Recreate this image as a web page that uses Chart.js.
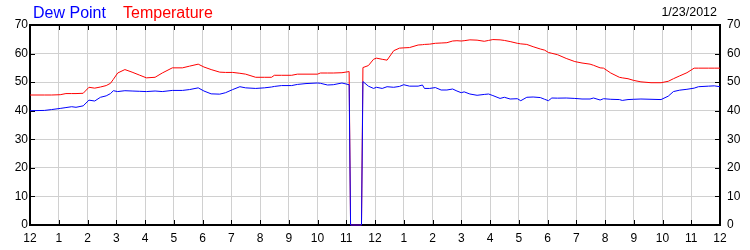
<!DOCTYPE html>
<html>
<head>
<meta charset="utf-8">
<script src="https://cdn.jsdelivr.net/npm/chart.js@4"></script>
<style>
  body { margin: 0; background: #fff; }
  #wrap { position: relative; width: 750px; height: 250px; font-family: "Liberation Sans", Arial, sans-serif; }
  .lbl { position: absolute; white-space: nowrap; line-height: normal; }
</style>
</head>
<body>
<div id="wrap">
  <canvas id="myChart" width="750" height="250"></canvas>
  <div class="lbl" style="left:33px; top:3.5px; font-size:16px; color:#0000ff">Dew Point</div>
  <div class="lbl" style="left:123px; top:3.5px; font-size:16px; color:#ff0000">Temperature</div>
  <div class="lbl" style="right:33px; top:5.4px; font-size:12.5px; color:#000">1/23/2012</div>
</div>
<script>
// hours since midnight
let hours = [0, 0.5, 0.75, 1.05, 1.25, 1.45, 1.6, 1.85, 2.05, 2.25, 2.45, 2.65, 2.8, 2.9, 3.05, 3.3, 3.55, 3.8, 4.05, 4.35,
  4.6, 4.95, 5.3, 5.55, 5.85, 6.05, 6.3, 6.6, 6.8, 7.05, 7.3, 7.5, 7.85, 8.15, 8.4, 8.5, 8.75, 9.1, 9.3, 9.6,
  10.0, 10.1, 10.35, 10.55, 10.85, 11.1, 11.15, 11.53, 11.58, 11.77, 11.95, 12.05, 12.25, 12.42, 12.65, 12.85, 13.0, 13.2, 13.5, 13.65,
  13.72, 13.9, 14.1, 14.3, 14.5, 14.7, 14.85, 15.0, 15.1, 15.3, 15.55, 15.8, 15.95, 16.1, 16.35, 16.5, 16.7, 16.95, 17.07, 17.28,
  17.5, 17.75, 17.9, 18.03, 18.15, 18.35, 18.65, 18.95, 19.2, 19.48, 19.6, 19.83, 19.95, 20.2, 20.5, 20.6, 20.8, 21.0, 21.25, 21.6,
  21.95, 22.2, 22.38, 22.6, 22.85, 23.1, 23.25, 23.6, 23.8, 24.0];

let temperature = [45.5, 45.5, 45.5, 45.6, 46.0, 46.0, 46.0, 46.1, 48.2, 47.9, 48.3, 48.8, 49.6, 51.0, 53.2, 54.4, 53.5, 52.5, 51.5, 51.7,
  53.2, 55.0, 55.0, 55.6, 56.3, 55.3, 54.4, 53.5, 53.4, 53.4, 53.1, 52.8, 51.7, 51.7, 51.7, 52.4, 52.4, 52.4, 52.8, 52.8,
  52.8, 53.2, 53.2, 53.2, 53.3, 53.7, 0, 0, 55.1, 55.8, 58.0, 58.4, 58.0, 57.7, 61.0, 61.9, 62.0, 62.1, 63.0, 63.1,
  63.2, 63.3, 63.6, 63.7, 63.8, 64.4, 64.5, 64.4, 64.5, 64.8, 64.7, 64.3, 64.6, 64.9, 64.8, 64.6, 64.2, 63.6, 63.4, 63.2,
  62.4, 61.6, 61.2, 60.4, 60.1, 59.6, 58.3, 57.2, 56.7, 56.3, 55.9, 55.0, 54.9, 53.2, 51.7, 51.5, 51.2, 50.6, 50.1, 49.8,
  49.8, 50.3, 51.2, 52.2, 53.3, 54.9, 54.9, 54.9, 54.9, 54.9];

let dewPoint = [40.0, 40.1, 40.4, 40.8, 41.1, 41.4, 41.2, 41.7, 43.7, 43.4, 44.7, 45.2, 46.0, 47.0, 46.7, 47.0, 46.9, 46.8, 46.7, 46.9,
  46.7, 47.1, 47.1, 47.4, 48.0, 46.9, 45.9, 45.8, 46.3, 47.4, 48.4, 48.0, 47.8, 48.0, 48.3, 48.5, 48.8, 48.8, 49.2, 49.5,
  49.7, 49.6, 49.0, 49.1, 49.7, 49.1, 0, 0, 50.2, 48.6, 47.8, 48.2, 47.8, 48.4, 48.2, 48.5, 49.1, 48.6, 48.6, 49.0,
  47.8, 47.8, 48.1, 47.25, 47.25, 47.6, 46.9, 46.3, 46.6, 45.85, 45.4, 45.7, 45.85, 45.3, 44.3, 44.7, 44.1, 44.2, 43.5, 44.7,
  44.8, 44.6, 44.0, 43.5, 44.45, 44.4, 44.45, 44.3, 44.1, 44.1, 44.45, 43.75, 44.2, 44.0, 43.9, 43.6, 43.9, 44.0, 44.1, 44.0,
  43.9, 45.1, 46.7, 47.2, 47.5, 47.9, 48.4, 48.6, 48.7, 48.4];

let hourLabels = ['12', '1', '2', '3', '4', '5', '6', '7', '8', '9', '10', '11',
  '12', '1', '2', '3', '4', '5', '6', '7', '8', '9', '10', '11', '12'];

const FONT = '"Liberation Sans", Arial, sans-serif';
const GRID = '#d0d0d0';

// black frame with short inward ticks on all four sides
const framePlugin = {
  id: 'frame',
  beforeDatasetsDraw(chart) {
    const { ctx, chartArea: a, scales } = chart;
    ctx.save();
    ctx.strokeStyle = '#000';
    ctx.lineWidth = 1;
    ctx.beginPath();
    scales.x.ticks.forEach(t => {
      const x = Math.round(scales.x.getPixelForValue(t.value)) + 0.5;
      ctx.moveTo(x, a.top); ctx.lineTo(x, a.top + 5);
      ctx.moveTo(x, a.bottom); ctx.lineTo(x, a.bottom - 5);
    });
    scales.y.ticks.forEach(t => {
      const y = Math.round(scales.y.getPixelForValue(t.value)) + 0.5;
      ctx.moveTo(a.left, y); ctx.lineTo(a.left + 5, y);
      ctx.moveTo(a.right, y); ctx.lineTo(a.right - 5, y);
    });
    ctx.stroke();
    ctx.lineWidth = 2;
    ctx.strokeRect(a.left, a.top, a.right - a.left, a.bottom - a.top);
    ctx.restore();
  }
};

const pts = arr => arr.map((v, i) => ({ x: hours[i], y: v }));

new Chart(document.getElementById('myChart'), {
  type: 'line',
  data: {
    datasets: [
      { label: 'Dew Point', data: pts(dewPoint), borderColor: '#0000ff', borderWidth: 1, pointRadius: 0, tension: 0, clip: false },
      { label: 'Temperature', data: pts(temperature), borderColor: '#ff0000', borderWidth: 1, pointRadius: 0, tension: 0, clip: false }
    ]
  },
  options: {
    responsive: false,
    animation: false,
    layout: { padding: { top: 25, left: 0, right: 0, bottom: 0 } },
    plugins: { legend: { display: false }, tooltip: { enabled: false } },
    scales: {
      x: {
        type: 'linear', min: 0, max: 24,
        ticks: {
          stepSize: 1, autoSkip: false, maxRotation: 0, padding: 6,
          color: '#000', font: { family: FONT, size: 12 },
          callback: v => hourLabels[v]
        },
        grid: { color: GRID, drawTicks: false },
        border: { display: false },
        afterFit: s => { s.height = 25; }
      },
      y: {
        min: 0, max: 70,
        ticks: { stepSize: 10, padding: 2, color: '#000', font: { family: FONT, size: 12 } },
        grid: { color: GRID, drawTicks: false },
        border: { display: false },
        afterFit: s => { s.width = 30; }
      },
      y2: {
        position: 'right', min: 0, max: 70,
        ticks: { stepSize: 10, padding: 7, color: '#000', font: { family: FONT, size: 12 } },
        grid: { display: false, drawTicks: false },
        border: { display: false },
        afterFit: s => { s.width = 30; }
      }
    }
  },
  plugins: [framePlugin]
});
</script>
</body>
</html>
